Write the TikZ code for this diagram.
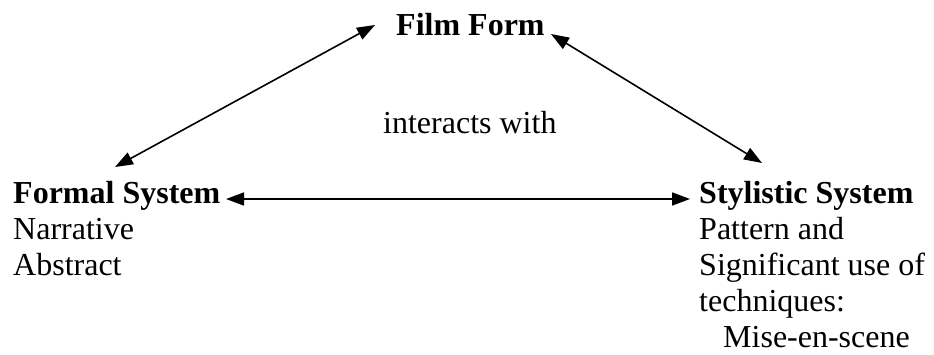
\documentclass[tikz,border=0pt]{standalone}
\usepackage{fontspec}
\setmainfont{Liberation Serif}
\usetikzlibrary{arrows.meta,calc}
\begin{document}
\begin{tikzpicture}[x=1pt,y=-1pt,
  txt/.style={anchor=base west,inner sep=0pt,font=\fontsize{32}{36}\selectfont},
  head/.style={txt,font=\fontsize{32}{36}\selectfont\bfseries},
  link/.style={line width=1.6pt,{Triangle[length=18pt,width=13pt]}-{Triangle[length=18pt,width=13pt]}}]
\useasboundingbox[fill=white] (0,0) rectangle (934,354);
\node[head] (film) at (396,35) {Film Form};
\node[txt] (inter) at (383,133) {interacts with};
\node[head] (formal) at (13,203) {Formal System};
\node[txt] (narr) at (13,239) {Narrative};
\node[txt] (abs) at (13,275) {Abstract};
\node[head] (styl) at (699,203) {Stylistic System};
\node[txt] (patt) at (699,239) {Pattern and};
\node[txt] (sig) at (699,275) {Significant use of};
\node[txt] (tech) at (699,311) {techniques:};
\node[txt] (mise) at (723,347) {Mise-en-scene};
\coordinate (filmL) at ($(film.base west)+(-21,-10)$);
\coordinate (filmR) at ($(film.base west)+(155,-1)$);
\coordinate (formalT) at ($(formal.base west)+(102,-36)$);
\coordinate (formalR) at ($(formal.base west)+(213,-4)$);
\coordinate (stylT) at ($(styl.base west)+(63,-40)$);
\coordinate (stylL) at ($(styl.base west)+(-9,-4)$);
\draw[link] (formalT) -- (filmL);
\draw[link] (filmR) -- (stylT);
\draw[link] (formalR) -- (stylL);
\end{tikzpicture}
\end{document}
